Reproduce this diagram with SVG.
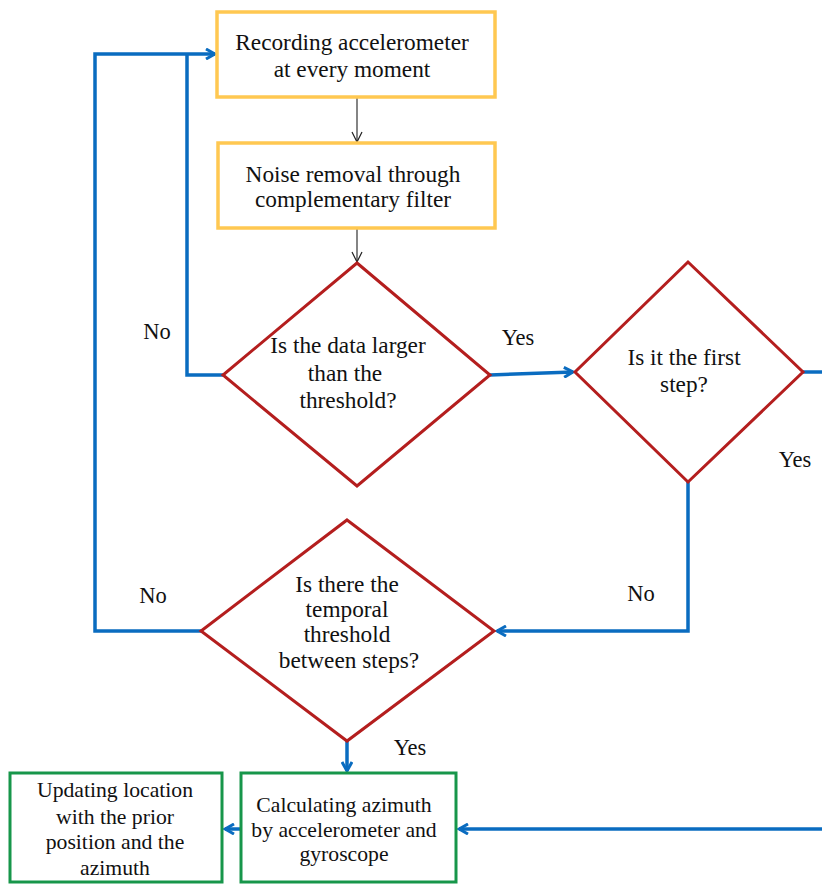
<svg xmlns="http://www.w3.org/2000/svg" width="822" height="884" viewBox="0 0 822 884">
<defs>
<marker id="blueArrow" viewBox="0 0 12 12" refX="10" refY="6" markerWidth="12" markerHeight="12" markerUnits="userSpaceOnUse" orient="auto">
<path d="M1,1 L10,6 L1,11" fill="none" stroke="#0A6CC0" stroke-width="3"/>
</marker>
<marker id="blackArrow" viewBox="0 0 12 12" refX="11" refY="6" markerWidth="12" markerHeight="12" markerUnits="userSpaceOnUse" orient="auto">
<path d="M1,1 L11,6 L1,11" fill="none" stroke="#222" stroke-width="1.2"/>
</marker>
<style>
.txt{font-family:"Liberation Serif","Times New Roman",serif;font-size:23.3px;fill:#111;text-anchor:middle}
.sm{font-size:21.7px}
.lbl{font-size:22.5px}
.yb{fill:#fff;stroke:#FFC851;stroke-width:3.5}
.gb{fill:#fff;stroke:#17964A;stroke-width:3}
.dm{fill:#fff;stroke:#B41E1E;stroke-width:3}
.blue{fill:none;stroke:#0A6CC0;stroke-width:3.5}
.blk{fill:none;stroke:#333;stroke-width:1.2}
</style>
</defs>
<rect width="822" height="884" fill="#fff"/>
<g id="connectors">
<line class="blk" x1="357" y1="97" x2="357" y2="142" marker-end="url(#blackArrow)"/>
<line class="blk" x1="357" y1="228" x2="357" y2="262" marker-end="url(#blackArrow)"/>
<polyline class="blue" points="223,375 187,375 187,54"/>
<polyline class="blue" points="201,631 95,631 95,54 215,54" marker-end="url(#blueArrow)"/>
<line class="blue" x1="490" y1="375" x2="573" y2="372" marker-end="url(#blueArrow)"/>
<polyline class="blue" points="688,482 688,631 497,631" marker-end="url(#blueArrow)"/>
<line class="blue" x1="803" y1="372" x2="822" y2="372"/>
<line class="blue" x1="347" y1="741" x2="347" y2="771" marker-end="url(#blueArrow)"/>
<line class="blue" x1="822" y1="829" x2="459" y2="829" marker-end="url(#blueArrow)"/>
<line class="blue" x1="241" y1="829" x2="225" y2="829" marker-end="url(#blueArrow)"/>
<text class="txt lbl" x="157" y="339">No</text>
<text class="txt lbl" x="518" y="345">Yes</text>
<text class="txt lbl" x="795" y="467">Yes</text>
<text class="txt lbl" x="641" y="601">No</text>
<text class="txt lbl" x="153" y="603">No</text>
<text class="txt lbl" x="410" y="755">Yes</text>
</g>
<g id="recording">
<rect class="yb" x="217" y="12" width="278" height="85"/>
<text class="txt" x="352" y="50">Recording accelerometer</text>
<text class="txt" x="352" y="77">at every moment</text>
</g>
<g id="noise">
<rect class="yb" x="218" y="143" width="277" height="85"/>
<text class="txt" x="353" y="182">Noise removal through</text>
<text class="txt" x="353" y="207">complementary filter</text>
</g>
<g id="threshold">
<polygon class="dm" points="357,263 490,375 357,486 223,375"/>
<text class="txt" x="348" y="353">Is the data larger</text>
<text class="txt" x="345" y="381">than the</text>
<text class="txt" x="348" y="408">threshold?</text>
</g>
<g id="firststep">
<polygon class="dm" points="688,262 803,372 688,482 575,372"/>
<text class="txt" x="684" y="365">Is it the first</text>
<text class="txt" x="684" y="392">step?</text>
</g>
<g id="temporal">
<polygon class="dm" points="347,520 494,631 347,741 201,631"/>
<text class="txt" x="347" y="592">Is there the</text>
<text class="txt" x="347" y="617">temporal</text>
<text class="txt" x="347" y="642">threshold</text>
<text class="txt" x="349" y="668">between steps?</text>
</g>
<g id="azimuth">
<rect class="gb" x="241" y="773" width="215" height="109"/>
<text class="txt sm" x="344" y="812">Calculating azimuth</text>
<text class="txt sm" x="344" y="837">by accelerometer and</text>
<text class="txt sm" x="344" y="861">gyroscope</text>
</g>
<g id="updating">
<rect class="gb" x="10" y="773" width="212" height="109"/>
<text class="txt sm" x="115" y="797">Updating location</text>
<text class="txt sm" x="115" y="824">with the prior</text>
<text class="txt sm" x="115" y="849">position and the</text>
<text class="txt sm" x="115" y="875">azimuth</text>
</g>
</svg>
